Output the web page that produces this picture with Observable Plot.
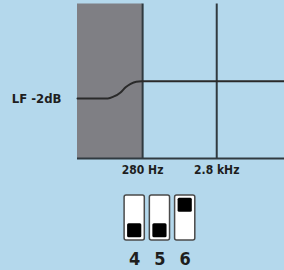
<!DOCTYPE html>
<html><head><meta charset="utf-8">
<script src="https://cdn.jsdelivr.net/npm/d3@7"></script>
<script src="https://cdn.jsdelivr.net/npm/@observablehq/plot@0.6"></script>
<style>
html,body{margin:0;padding:0;background:#b4d8ec;}
#c{width:284px;height:270px;overflow:hidden}
svg{display:block}
</style></head><body><div id="c"></div>
<script>
// ---- data ----
const freqDomain = [37, 23000];
const gainDomain = [-9, 9];
const shadedBand = [37, 280];
const markerFreqs = [280, 2800];
const markerLabels = ["280 Hz", "2.8 kHz"];
const curveFreq = [37, 95, 113, 141, 165, 193, 230, 270, 23000];
const curveGain = [-2, -2, -1.8, -1.3, -0.7, -0.3, -0.05, 0, 0];
const levelLabel = "LF -2dB";
const levelValue = -2;
const switchNames = ["4", "5", "6"];
const switchUp = [0, 0, 1];

// ---- build ----
const curve = curveFreq.map((f, i) => ({f, g: curveGain[i]}));
const markers = markerFreqs.map((f, i) => ({f, label: markerLabels[i]}));
const lineColor = "#303a40";
const textColor = "#1e1e1e";
const font = "'DejaVu Sans Condensed', 'DejaVu Sans', sans-serif";

const main = Plot.plot({
  width: 284, height: 180,
  marginLeft: 77, marginRight: 0, marginTop: 3.5, marginBottom: 22,
  style: {background: "transparent", fontFamily: font, fontWeight: "bold", color: textColor, overflow: "visible"},
  x: {type: "log", domain: freqDomain, axis: null},
  y: {domain: gainDomain, axis: null},
  marks: [
    Plot.rect([shadedBand], {x1: d => d[0], x2: d => d[1], y1: gainDomain[0], y2: gainDomain[1], fill: "#7f7f84"}),
    Plot.ruleX(markerFreqs, {stroke: lineColor, strokeWidth: 2}),
    Plot.ruleY([gainDomain[0]], {stroke: lineColor, strokeWidth: 2}),
    Plot.line(curve, {x: "f", y: "g", curve: "monotone-x", stroke: "#2a2a2a", strokeWidth: 2}),
    Plot.text(markers, {x: "f", text: "label", frameAnchor: "bottom", dy: 15,
      fontSize: 12, fontWeight: "bold", fill: textColor}),
    Plot.text([levelLabel], {x: freqDomain[0], y: levelValue, dx: -16, textAnchor: "end",
      fontSize: 13, fontWeight: "bold", fill: textColor})
  ]
});

const switches = switchNames.map((name, i) => ({name, n: +name, up: switchUp[i]}));
const sw = Plot.plot({
  width: 284, height: 90,
  style: {background: "transparent", fontFamily: font, fontWeight: "bold"},
  x: {domain: [4, 6], range: [134.2, 184.7], axis: null},
  y: {domain: [0, 1], range: [60, 15], axis: null},
  marks: [
    Plot.rect(switches, {x1: d => d.n - 0.4, x2: d => d.n + 0.4, y1: 0, y2: 1,
      fill: "white", stroke: "#4a4a4a", strokeWidth: 1.5, rx: 2}),
    Plot.rect(switches, {x1: d => d.n - 0.4, x2: d => d.n + 0.4,
      y1: d => d.up ? 0.63 : 0.06, y2: d => d.up ? 0.94 : 0.37,
      insetLeft: 3, insetRight: 3, fill: "#000", rx: 1.5}),
    Plot.text(switches, {x: "n", y: -0.41, text: "name", fontSize: 18, fontWeight: "bold", fill: textColor})
  ]
});

const c = document.getElementById("c");
c.append(main, sw);
</script></body></html>
